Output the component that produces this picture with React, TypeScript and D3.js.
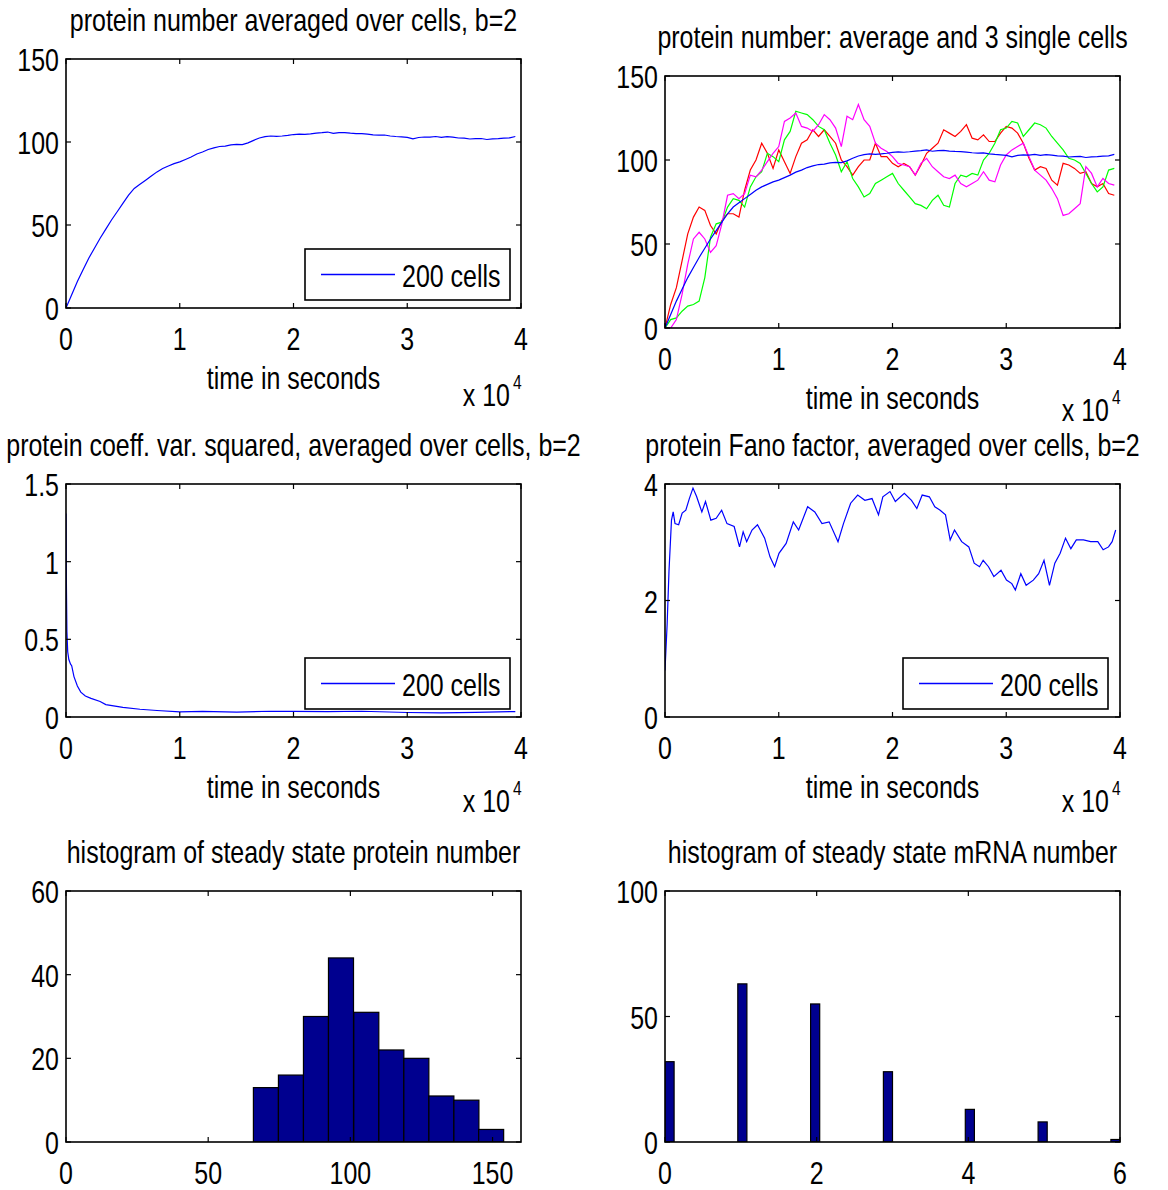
import React from "react";
import * as d3 from "d3";

// ---------------- data ----------------
const timeTicks = [0, 1, 2, 3, 4]; // units of 10^4 s
const gridStep = 0.05; // 10^4 s between samples of the uniformly sampled series

const meanProtein = [0, 8, 16, 23, 30, 36, 42, 47.5, 53, 58, 63, 68, 72, 74.5, 77, 79.5, 82, 84, 85.5, 87, 88, 89.5, 91, 92.8, 94, 95.5, 96.5, 97.3, 97.5, 98.3, 98.6, 98.4, 99.5, 101, 102.4, 103.2, 103.6, 103.4, 103.6, 104, 104.5, 104.8, 104.6, 104.9, 105.3, 105.6, 106, 105.2, 105.6, 105.7, 105.3, 105.1, 105, 104.7, 104.3, 104.1, 104.2, 103.6, 103.3, 103.1, 102.8, 101.9, 102.7, 103, 102.9, 103.3, 102.8, 103.2, 102.9, 102.4, 102.3, 101.8, 102, 102.1, 101.5, 101.9, 102, 102.3, 102.5, 103.3];

const cellRed = [0, 14, 24, 40, 56, 66, 72, 70, 61, 56, 64, 68, 68, 66, 82, 94, 100, 110, 104, 95, 106, 99, 92, 102, 110, 112, 118, 114, 118, 114, 110, 100, 96, 91, 96, 100, 100, 110, 102, 102, 98, 96, 98, 96, 91, 97, 104, 107, 110, 118, 116, 114, 117, 121, 113, 112, 115, 111, 111, 116, 120, 119, 116, 110, 101, 94, 96, 95, 88, 85, 98, 97, 95, 92, 93, 86, 84, 86, 80, 79];

const cellGreen = [0, 5, 6, 10, 13, 14, 16, 30, 54, 62, 63, 72, 77, 76, 72, 84, 90, 93, 104, 102, 99, 112, 117, 129, 128, 127, 124, 120, 118, 110, 103, 93, 99, 89, 84, 78, 80, 86, 88, 90, 92, 86, 82, 78, 74, 73, 71, 76, 79, 73, 72, 86, 91, 90, 92, 91, 100, 104, 110, 118, 119, 123, 122, 114, 118, 122, 121, 119, 114, 110, 106, 101, 100, 98, 92, 86, 81, 84, 94, 95];

const cellMagenta = [0, 0, 5, 20, 38, 53, 57, 53, 45, 49, 62, 79, 80, 77, 80, 91, 90, 94, 99, 104, 108, 123, 125, 128, 120, 119, 117, 121, 127, 124, 119, 108, 126, 124, 133, 124, 120, 110, 107, 105, 102, 98, 97, 96, 91, 98, 101, 96, 93, 90, 89, 91, 86, 84, 86, 88, 93, 88, 87, 97, 103, 106, 108, 110, 102, 94, 91, 88, 83, 77, 67, 68, 71, 74, 96, 92, 84, 89, 86, 85];

const cv2Time = [0, 0.003, 0.008, 0.015, 0.025, 0.04, 0.05, 0.07, 0.1, 0.13, 0.17, 0.22, 0.3, 0.35, 0.5, 0.65, 0.8, 1.0, 1.2, 1.5, 1.8, 2.0, 2.3, 2.6, 3.0, 3.3, 3.6, 3.95];
const cv2Values = [1.31, 0.9, 0.55, 0.42, 0.37, 0.34, 0.33, 0.26, 0.2, 0.16, 0.135, 0.12, 0.1, 0.08, 0.062, 0.05, 0.042, 0.033, 0.036, 0.032, 0.037, 0.036, 0.034, 0.037, 0.029, 0.027, 0.03, 0.035];

const fanoTime = [0, 0.019, 0.035, 0.057, 0.072, 0.088, 0.12, 0.151, 0.183, 0.214, 0.246, 0.277, 0.324, 0.356, 0.403, 0.45, 0.498, 0.545, 0.608, 0.655, 0.687, 0.718, 0.765, 0.813, 0.876, 0.923, 0.964, 1.002, 1.065, 1.128, 1.175, 1.254, 1.317, 1.38, 1.443, 1.521, 1.569, 1.632, 1.694, 1.757, 1.82, 1.877, 1.915, 1.978, 2.025, 2.104, 2.167, 2.214, 2.261, 2.324, 2.372, 2.419, 2.466, 2.507, 2.545, 2.608, 2.671, 2.718, 2.765, 2.797, 2.844, 2.891, 2.954, 3.002, 3.049, 3.08, 3.128, 3.175, 3.238, 3.285, 3.332, 3.38, 3.427, 3.474, 3.521, 3.568, 3.616, 3.679, 3.742, 3.805, 3.852, 3.899, 3.931, 3.962];
const fanoValues = [0.8, 1.6, 2.5, 3.38, 3.52, 3.32, 3.3, 3.5, 3.55, 3.75, 3.93, 3.79, 3.52, 3.7, 3.38, 3.41, 3.55, 3.32, 3.27, 2.92, 3.18, 3.01, 3.21, 3.3, 3.07, 2.75, 2.58, 2.81, 2.98, 3.35, 3.21, 3.61, 3.52, 3.32, 3.35, 3.01, 3.32, 3.67, 3.81, 3.72, 3.75, 3.47, 3.78, 3.87, 3.7, 3.84, 3.72, 3.58, 3.81, 3.78, 3.61, 3.55, 3.47, 3.04, 3.21, 3.01, 2.92, 2.64, 2.58, 2.69, 2.58, 2.41, 2.52, 2.35, 2.29, 2.18, 2.46, 2.26, 2.35, 2.46, 2.69, 2.26, 2.64, 2.81, 3.07, 2.89, 3.04, 3.04, 3.01, 3.01, 2.87, 2.92, 3.01, 3.21];

const proteinBinCenters = [70.3, 79.1, 87.9, 96.7, 105.6, 114.4, 123.2, 132.0, 140.8, 149.5];
const proteinBinWidth = 8.8;
const proteinCounts = [13, 16, 30, 44, 31, 22, 20, 11, 10, 3];

const mrnaBinCenters = [0.06, 1.02, 1.98, 2.94, 4.02, 4.98, 5.94];
const mrnaBinWidth = 0.12;
const mrnaCounts = [32, 63, 55, 28, 13, 8, 1];

const titles = [
  "protein number averaged over cells, b=2",
  "protein number: average and 3 single cells",
  "protein coeff. var. squared, averaged over cells, b=2",
  "protein Fano factor, averaged over cells, b=2",
  "histogram of steady state protein number",
  "histogram of steady state mRNA number",
];
const xLabel = "time in seconds";
const legendLabel = "200 cells";

// ---------------- styling ----------------
const FONT = "'Liberation Sans', Arial, Helvetica, sans-serif";
const FS = 32;
const SX = 0.78;
const BLUE = "#0000ff";
const BAR = "#00008f";

type Box = { x0: number; x1: number; y0: number; y1: number };
const boxes: Box[] = [
  { x0: 66, x1: 521, y0: 59, y1: 308 },
  { x0: 665, x1: 1120, y0: 76, y1: 328 },
  { x0: 66, x1: 521, y0: 484, y1: 717 },
  { x0: 665, x1: 1120, y0: 484, y1: 717 },
  { x0: 66, x1: 521, y0: 891, y1: 1142 },
  { x0: 665, x1: 1120, y0: 891, y1: 1142 },
];

function Txt({ x, y, anchor = "start", size = FS, children }: any) {
  return (
    <text
      transform={`translate(${x},${y}) scale(${SX},1)`}
      textAnchor={anchor}
      fontSize={size}
      fontFamily={FONT}
      fill="#000"
    >
      {children}
    </text>
  );
}

function Frame({ b, xs, ys, xTicks, yTicks, fmtX, fmtY }: any) {
  const tl = 5;
  return (
    <g>
      <rect x={b.x0} y={b.y0} width={b.x1 - b.x0} height={b.y1 - b.y0} fill="none" stroke="#000" strokeWidth={1.6} />
      {xTicks.map((t: number) => {
        const px = xs(t);
        return (
          <g key={"x" + t}>
            <line x1={px} x2={px} y1={b.y1} y2={b.y1 - tl} stroke="#000" strokeWidth={1.2} />
            <line x1={px} x2={px} y1={b.y0} y2={b.y0 + tl} stroke="#000" strokeWidth={1.2} />
            <Txt x={px} y={b.y1 + 42} anchor="middle">{fmtX(t)}</Txt>
          </g>
        );
      })}
      {yTicks.map((t: number) => {
        const py = ys(t);
        return (
          <g key={"y" + t}>
            <line x1={b.x0} x2={b.x0 + tl} y1={py} y2={py} stroke="#000" strokeWidth={1.2} />
            <line x1={b.x1} x2={b.x1 - tl} y1={py} y2={py} stroke="#000" strokeWidth={1.2} />
            <Txt x={b.x0 - 7} y={py + 12} anchor="end">{fmtY(t)}</Txt>
          </g>
        );
      })}
    </g>
  );
}

function TimeLabels({ b, expDy }: any) {
  const cx = (b.x0 + b.x1) / 2;
  return (
    <g>
      <Txt x={cx} y={b.y1 + 81} anchor="middle">{xLabel}</Txt>
      <Txt x={b.x1 - 11} y={b.y1 + expDy} anchor="end">x 10</Txt>
      <Txt x={b.x1 - 8} y={b.y1 + expDy - 17} size={20}>4</Txt>
    </g>
  );
}

function Legend({ b }: any) {
  const w = 205, h = 51;
  const x = b.x1 - 11 - w;
  const y = b.y1 - 8 - h;
  return (
    <g>
      <rect x={x} y={y} width={w} height={h} fill="#fff" stroke="#000" strokeWidth={1.6} />
      <line x1={x + 16} x2={x + 90} y1={y + h / 2} y2={y + h / 2} stroke={BLUE} strokeWidth={1.3} />
      <Txt x={x + 97} y={y + h / 2 + 12}>{legendLabel}</Txt>
    </g>
  );
}

const grid = d3.range(meanProtein.length).map((i) => i * gridStep);

export default function App() {
  const fmtInt = (d: number) => String(d);

  const b1 = boxes[0];
  const x1 = d3.scaleLinear().domain([0, 4]).range([b1.x0, b1.x1]);
  const y1 = d3.scaleLinear().domain([0, 150]).range([b1.y1, b1.y0]);
  const line1 = d3.line<number>().x((_, i) => x1(grid[i])).y((d) => y1(d));

  const b2 = boxes[1];
  const x2 = d3.scaleLinear().domain([0, 4]).range([b2.x0, b2.x1]);
  const y2 = d3.scaleLinear().domain([0, 150]).range([b2.y1, b2.y0]);
  const line2 = d3.line<number>().x((_, i) => x2(grid[i])).y((d) => y2(d));

  const b3 = boxes[2];
  const x3 = d3.scaleLinear().domain([0, 4]).range([b3.x0, b3.x1]);
  const y3 = d3.scaleLinear().domain([0, 1.5]).range([b3.y1, b3.y0]);
  const line3 = d3.line<number>().x((_, i) => x3(cv2Time[i])).y((d) => y3(d));

  const b4 = boxes[3];
  const x4 = d3.scaleLinear().domain([0, 4]).range([b4.x0, b4.x1]);
  const y4 = d3.scaleLinear().domain([0, 4]).range([b4.y1, b4.y0]);
  const line4 = d3.line<number>().x((_, i) => x4(fanoTime[i])).y((d) => y4(d));

  const b5 = boxes[4];
  const x5 = d3.scaleLinear().domain([0, 160]).range([b5.x0, b5.x1]);
  const y5 = d3.scaleLinear().domain([0, 60]).range([b5.y1, b5.y0]);

  const b6 = boxes[5];
  const x6 = d3.scaleLinear().domain([0, 6]).range([b6.x0, b6.x1]);
  const y6 = d3.scaleLinear().domain([0, 100]).range([b6.y1, b6.y0]);

  const clip = (i: number) => `url(#clip${i})`;

  return (
    <svg width={1168} height={1190} style={{ position: "absolute", left: 0, top: 0, background: "#fff" }}>
      <defs>
        {boxes.map((b, i) => (
          <clipPath id={`clip${i}`} key={i}>
            <rect x={b.x0} y={b.y0} width={b.x1 - b.x0} height={b.y1 - b.y0} />
          </clipPath>
        ))}
      </defs>
      <rect x={0} y={0} width={1168} height={1190} fill="#fff" />

      {boxes.map((b, i) => (
        <Txt key={"t" + i} x={(b.x0 + b.x1) / 2} y={b.y0 - 28} anchor="middle">{titles[i]}</Txt>
      ))}

      <g clipPath={clip(0)}>
        <path d={line1(meanProtein) || ""} fill="none" stroke={BLUE} strokeWidth={1.2} />
      </g>
      <Frame b={b1} xs={x1} ys={y1} xTicks={timeTicks} yTicks={[0, 50, 100, 150]} fmtX={fmtInt} fmtY={fmtInt} />
      <Legend b={b1} />
      <TimeLabels b={b1} expDy={98} />

      <g clipPath={clip(1)}>
        <path d={line2(cellRed) || ""} fill="none" stroke="#ff0000" strokeWidth={1.2} />
        <path d={line2(cellGreen) || ""} fill="none" stroke="#00ff00" strokeWidth={1.2} />
        <path d={line2(cellMagenta) || ""} fill="none" stroke="#ff00ff" strokeWidth={1.2} />
        <path d={line2(meanProtein) || ""} fill="none" stroke={BLUE} strokeWidth={1.2} />
      </g>
      <Frame b={b2} xs={x2} ys={y2} xTicks={timeTicks} yTicks={[0, 50, 100, 150]} fmtX={fmtInt} fmtY={fmtInt} />
      <TimeLabels b={b2} expDy={93} />

      <g clipPath={clip(2)}>
        <path d={line3(cv2Values) || ""} fill="none" stroke={BLUE} strokeWidth={1.2} />
      </g>
      <Frame b={b3} xs={x3} ys={y3} xTicks={timeTicks} yTicks={[0, 0.5, 1, 1.5]} fmtX={fmtInt} fmtY={fmtInt} />
      <Legend b={b3} />
      <TimeLabels b={b3} expDy={95} />

      <g clipPath={clip(3)}>
        <path d={line4(fanoValues) || ""} fill="none" stroke={BLUE} strokeWidth={1.2} />
      </g>
      <Frame b={b4} xs={x4} ys={y4} xTicks={timeTicks} yTicks={[0, 2, 4]} fmtX={fmtInt} fmtY={fmtInt} />
      <Legend b={{ ...b4, x1: b4.x1 - 1 }} />
      <TimeLabels b={b4} expDy={95} />

      <g clipPath={clip(4)}>
        {proteinBinCenters.map((c, i) => (
          <rect
            key={i}
            x={x5(c - proteinBinWidth / 2)}
            width={x5(c + proteinBinWidth / 2) - x5(c - proteinBinWidth / 2)}
            y={y5(proteinCounts[i])}
            height={y5(0) - y5(proteinCounts[i])}
            fill={BAR}
            stroke="#000"
            strokeWidth={1.2}
          />
        ))}
      </g>
      <Frame b={b5} xs={x5} ys={y5} xTicks={[0, 50, 100, 150]} yTicks={[0, 20, 40, 60]} fmtX={fmtInt} fmtY={fmtInt} />

      <g clipPath={clip(5)}>
        {mrnaBinCenters.map((c, i) => (
          <rect
            key={i}
            x={x6(c - mrnaBinWidth / 2)}
            width={x6(c + mrnaBinWidth / 2) - x6(c - mrnaBinWidth / 2)}
            y={y6(mrnaCounts[i])}
            height={y6(0) - y6(mrnaCounts[i])}
            fill={BAR}
            stroke="#000"
            strokeWidth={1.2}
          />
        ))}
      </g>
      <Frame b={b6} xs={x6} ys={y6} xTicks={[0, 2, 4, 6]} yTicks={[0, 50, 100]} fmtX={fmtInt} fmtY={fmtInt} />
    </svg>
  );
}
